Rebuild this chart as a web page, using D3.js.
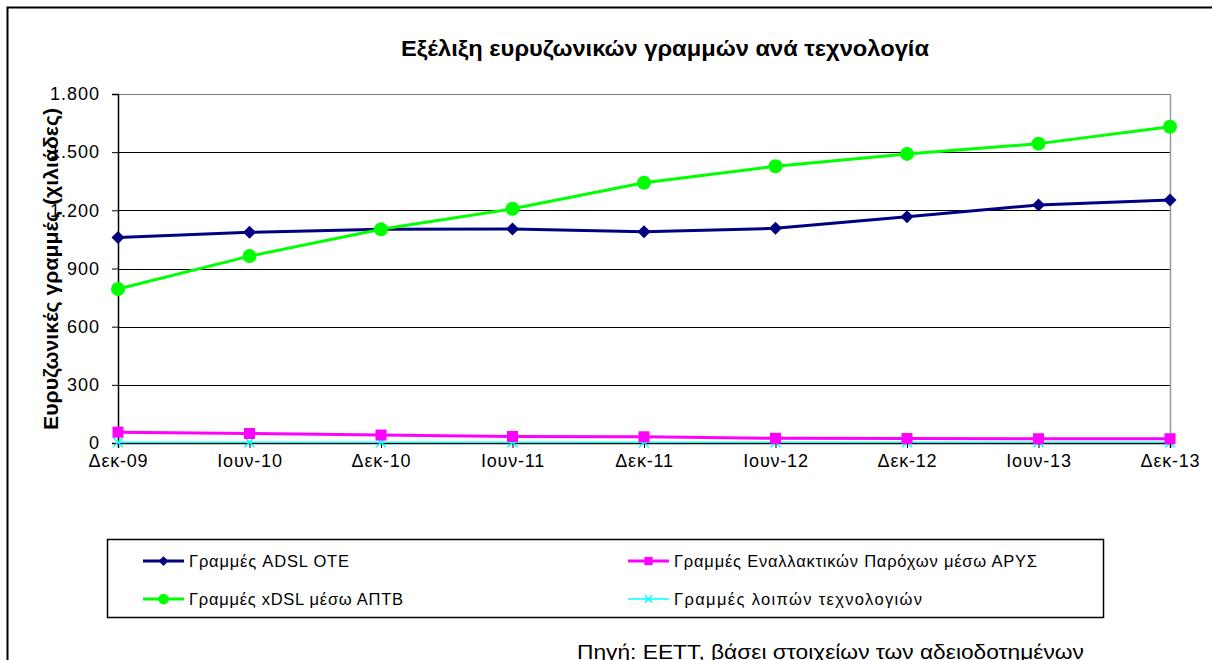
<!DOCTYPE html>
<html>
<head>
<meta charset="utf-8">
<script src="https://cdn.jsdelivr.net/npm/d3@7"></script>
<style>
  html, body { margin: 0; padding: 0; background: #fff; }
  svg { display: block; font-family: "Liberation Sans", Arial, sans-serif; }
</style>
</head>
<body>
<svg id="chart" width="1212" height="660"></svg>
<script>
const categories = ["Δεκ-09", "Ιουν-10", "Δεκ-10", "Ιουν-11", "Δεκ-11", "Ιουν-12", "Δεκ-12", "Ιουν-13", "Δεκ-13"];
const adslOTE   = [1060, 1087, 1102, 1104, 1090, 1107, 1167, 1228, 1253];
const xdslAPTB  = [794, 964, 1102, 1208, 1342, 1427, 1491, 1544, 1631];
const altARYS   = [56, 49, 41, 34, 32, 24, 23, 22, 22];
const otherTech = [4, 4, 4, 4, 4, 4, 4, 4, 4];
const yTicks = [0, 300, 600, 900, 1200, 1500, 1800];

const seriesNames = ["Γραμμές ADSL OTE", "Γραμμές Εναλλακτικών Παρόχων μέσω ΑΡΥΣ", "Γραμμές xDSL μέσω ΑΠΤΒ", "Γραμμές λοιπών τεχνολογιών"];
const series = [
  { name: seriesNames[0], values: adslOTE,   color: "#000080", width: 3,   marker: "diamond" },
  { name: seriesNames[1], values: altARYS,   color: "#FF00FF", width: 3,   marker: "square" },
  { name: seriesNames[2], values: xdslAPTB,  color: "#00FF00", width: 3,   marker: "circle" },
  { name: seriesNames[3], values: otherTech, color: "#00FFFF", width: 1.5, marker: "x" }
];

const svg = d3.select("#chart");
const fmt = d3.formatLocale({ decimal: ",", thousands: ".", grouping: [3], currency: ["€", ""] }).format(",d");

// outer frame
svg.append("rect").attr("x", 7.5).attr("y", 7.5).attr("width", 1230).attr("height", 700)
  .attr("fill", "none").attr("stroke", "#000").attr("stroke-width", 2);

const x0 = 118, x1 = 1170, yTop = 94, yBot = 443;
const x = d3.scalePoint().domain(categories).range([x0, x1]);
const y = d3.scaleLinear().domain([0, 1800]).range([yBot, yTop]);

// gridlines
svg.append("g").selectAll("line").data(yTicks.filter(d => d > 0)).join("line")
  .attr("x1", x0).attr("x2", x1)
  .attr("y1", d => Math.round(y(d)) + 0.5).attr("y2", d => Math.round(y(d)) + 0.5)
  .attr("stroke", d => d === 1800 ? "#808080" : "#000").attr("stroke-width", 1);
// right plot border
svg.append("line").attr("x1", x1 + 0.5).attr("x2", x1 + 0.5).attr("y1", yTop).attr("y2", yBot)
  .attr("stroke", "#999").attr("stroke-width", 1.5);

// y axis
const yAxis = d3.axisLeft(y).tickValues(yTicks).tickFormat(fmt).tickSize(6).tickPadding(12);
const gy = svg.append("g").attr("transform", `translate(${x0},0)`).call(yAxis);
gy.select(".domain").attr("stroke", "#000").attr("stroke-width", 1.5);
gy.selectAll(".tick line").attr("stroke", "#000");
gy.selectAll(".tick text").attr("font-size", 18).attr("fill", "#000").attr("letter-spacing", 1)
  .attr("font-family", "Liberation Sans, Arial, sans-serif");

// x axis
const xAxis = d3.axisBottom(x).tickSize(5).tickPadding(6);
const gx = svg.append("g").attr("transform", `translate(0,${yBot})`).call(xAxis);
gx.select(".domain").attr("stroke", "#000").attr("stroke-width", 1.5);
gx.selectAll(".tick line").attr("stroke", "#000");
gx.selectAll(".tick text").attr("font-size", 18).attr("fill", "#000").attr("letter-spacing", 0.8)
  .attr("font-family", "Liberation Sans, Arial, sans-serif");

// lines
const line = d3.line().x((d, i) => x(categories[i])).y(d => y(d));

function drawMarker(g, type, cx, cy, color, scale = 1) {
  if (type === "diamond") {
    const s = 6.5 * scale;
    g.append("path").attr("d", `M${cx},${cy - s}L${cx + s},${cy}L${cx},${cy + s}L${cx - s},${cy}Z`).attr("fill", color);
  } else if (type === "square") {
    const s = 5.5 * scale;
    g.append("rect").attr("x", cx - s).attr("y", cy - s).attr("width", 2 * s).attr("height", 2 * s).attr("fill", color);
  } else if (type === "circle") {
    g.append("circle").attr("cx", cx).attr("cy", cy).attr("r", 7 * scale).attr("fill", color);
  } else if (type === "x") {
    const s = 5 * scale;
    g.append("path").attr("d", `M${cx - s},${cy - s}L${cx + s},${cy + s}M${cx - s},${cy + s}L${cx + s},${cy - s}`)
      .attr("stroke", color).attr("stroke-width", 1.5).attr("fill", "none");
  }
}

// draw order: other, ARYS, ADSL, xDSL
const drawOrder = [3, 1, 0, 2];
drawOrder.forEach(k => {
  const s = series[k];
  const g = svg.append("g");
  g.append("path").datum(s.values).attr("d", line).attr("fill", "none")
    .attr("stroke", s.color).attr("stroke-width", s.width).attr("stroke-linejoin", "round");
  s.values.forEach((v, i) => drawMarker(g, s.marker, x(categories[i]), y(v), s.color));
});

// title
svg.append("text").attr("x", 401).attr("y", 56)
  .attr("font-size", 21.5).attr("font-weight", "bold")
  .attr("textLength", 528).attr("lengthAdjust", "spacingAndGlyphs")
  .text("Εξέλιξη ευρυζωνικών γραμμών ανά τεχνολογία");

// y axis label
svg.append("text").attr("transform", "translate(58,430) rotate(-90)")
  .attr("font-size", 20).attr("font-weight", "bold")
  .attr("textLength", 322).attr("lengthAdjust", "spacingAndGlyphs")
  .text("Ευρυζωνικές γραμμές (χιλιάδες)");

// legend
svg.append("rect").attr("x", 107.5).attr("y", 539.5).attr("width", 996).attr("height", 78)
  .attr("fill", "#fff").attr("stroke", "#000").attr("stroke-width", 1.5);
const legendPos = [
  { k: 0, lx: 143, ly: 561, w: 160 },
  { k: 1, lx: 628, ly: 561, w: 363 },
  { k: 2, lx: 143, ly: 599, w: 214 },
  { k: 3, lx: 628, ly: 599, w: 248 }
];
legendPos.forEach(p => {
  const s = series[p.k];
  const g = svg.append("g");
  g.append("line").attr("x1", p.lx).attr("x2", p.lx + 41).attr("y1", p.ly).attr("y2", p.ly)
    .attr("stroke", s.color).attr("stroke-width", s.width);
  drawMarker(g, s.marker, p.lx + 20.5, p.ly, s.color, 0.75);
  g.append("text").attr("x", p.lx + 46).attr("y", p.ly + 6).attr("font-size", 16.5)
    .attr("textLength", p.w).attr("lengthAdjust", "spacing")
    .attr("fill", "#000").text(s.name);
});

// source
svg.append("text").attr("x", 577).attr("y", 659).attr("font-size", 20)
  .attr("textLength", 507).attr("lengthAdjust", "spacingAndGlyphs")
  .text("Πηγή: ΕΕΤΤ, βάσει στοιχείων των αδειοδοτημένων");
</script>
</body>
</html>
